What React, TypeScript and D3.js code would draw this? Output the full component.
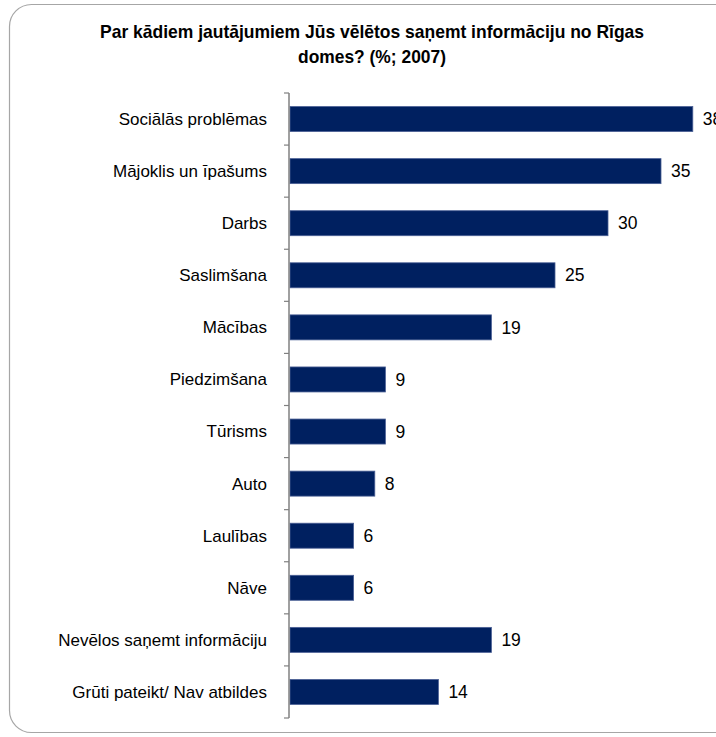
import React from "react";
import * as d3 from "d3";

const categories = [
  "Sociālās problēmas",
  "Mājoklis  un īpašums",
  "Darbs",
  "Saslimšana",
  "Mācības",
  "Piedzimšana",
  "Tūrisms",
  "Auto",
  "Laulības",
  "Nāve",
  "Nevēlos saņemt informāciju",
  "Grūti pateikt/ Nav atbildes",
];
const values = [38, 35, 30, 25, 19, 9, 9, 8, 6, 6, 19, 14];
const titleLines = [
  "Par kādiem jautājumiem Jūs vēlētos saņemt informāciju no Rīgas",
  "domes? (%; 2007)",
];
const titleWidths = [544, 148];

const W = 716;
const H = 737;
const FONT = "'Liberation Sans', Arial, sans-serif";

export default function App() {
  const x = d3.scaleLinear().domain([0, 40]).range([290, 714]);
  const y = d3.scaleBand<string>().domain(categories).range([93, 718]).paddingInner(0.52).paddingOuter(0.26);
  const ticks = d3.range(categories.length + 1).map((i) => 93 + i * (625 / categories.length));

  return (
    <svg width={W} height={H} style={{ position: "absolute", left: 0, top: 0, background: "#fff" }}>
      <rect x={9.5} y={4.5} width={760} height={728} rx={22} ry={22} fill="#fff" stroke="#a6a6a6" strokeWidth={1.2} />
      {titleLines.map((t, i) => (
        <text key={i} x={372} y={38 + i * 25} textAnchor="middle" fontFamily={FONT} fontWeight="bold" fontSize={18.5}
          textLength={titleWidths[i]} lengthAdjust="spacingAndGlyphs" fill="#000">
          {t}
        </text>
      ))}
      {categories.map((c, i) => (
        <g key={c}>
          <rect x={x(0)} y={y(c)!} width={x(values[i]) - x(0)} height={y.bandwidth()} fill="#002060" stroke="#4a5f95" strokeWidth={0.8} />
          <text x={267} y={y(c)! + y.bandwidth() / 2} dy="0.35em" textAnchor="end" fontFamily={FONT} fontSize={17} fill="#000">
            {c}
          </text>
          <text x={x(values[i]) + 10} y={y(c)! + y.bandwidth() / 2} dy="0.35em" textAnchor="start" fontFamily={FONT} fontSize={17.5} fill="#000">
            {values[i]}
          </text>
        </g>
      ))}
      <line x1={289} x2={289} y1={93} y2={718} stroke="#808080" strokeWidth={1.5} />
      {ticks.map((t, i) => (
        <line key={i} x1={284} x2={289} y1={t} y2={t} stroke="#808080" strokeWidth={1.2} />
      ))}
    </svg>
  );
}
